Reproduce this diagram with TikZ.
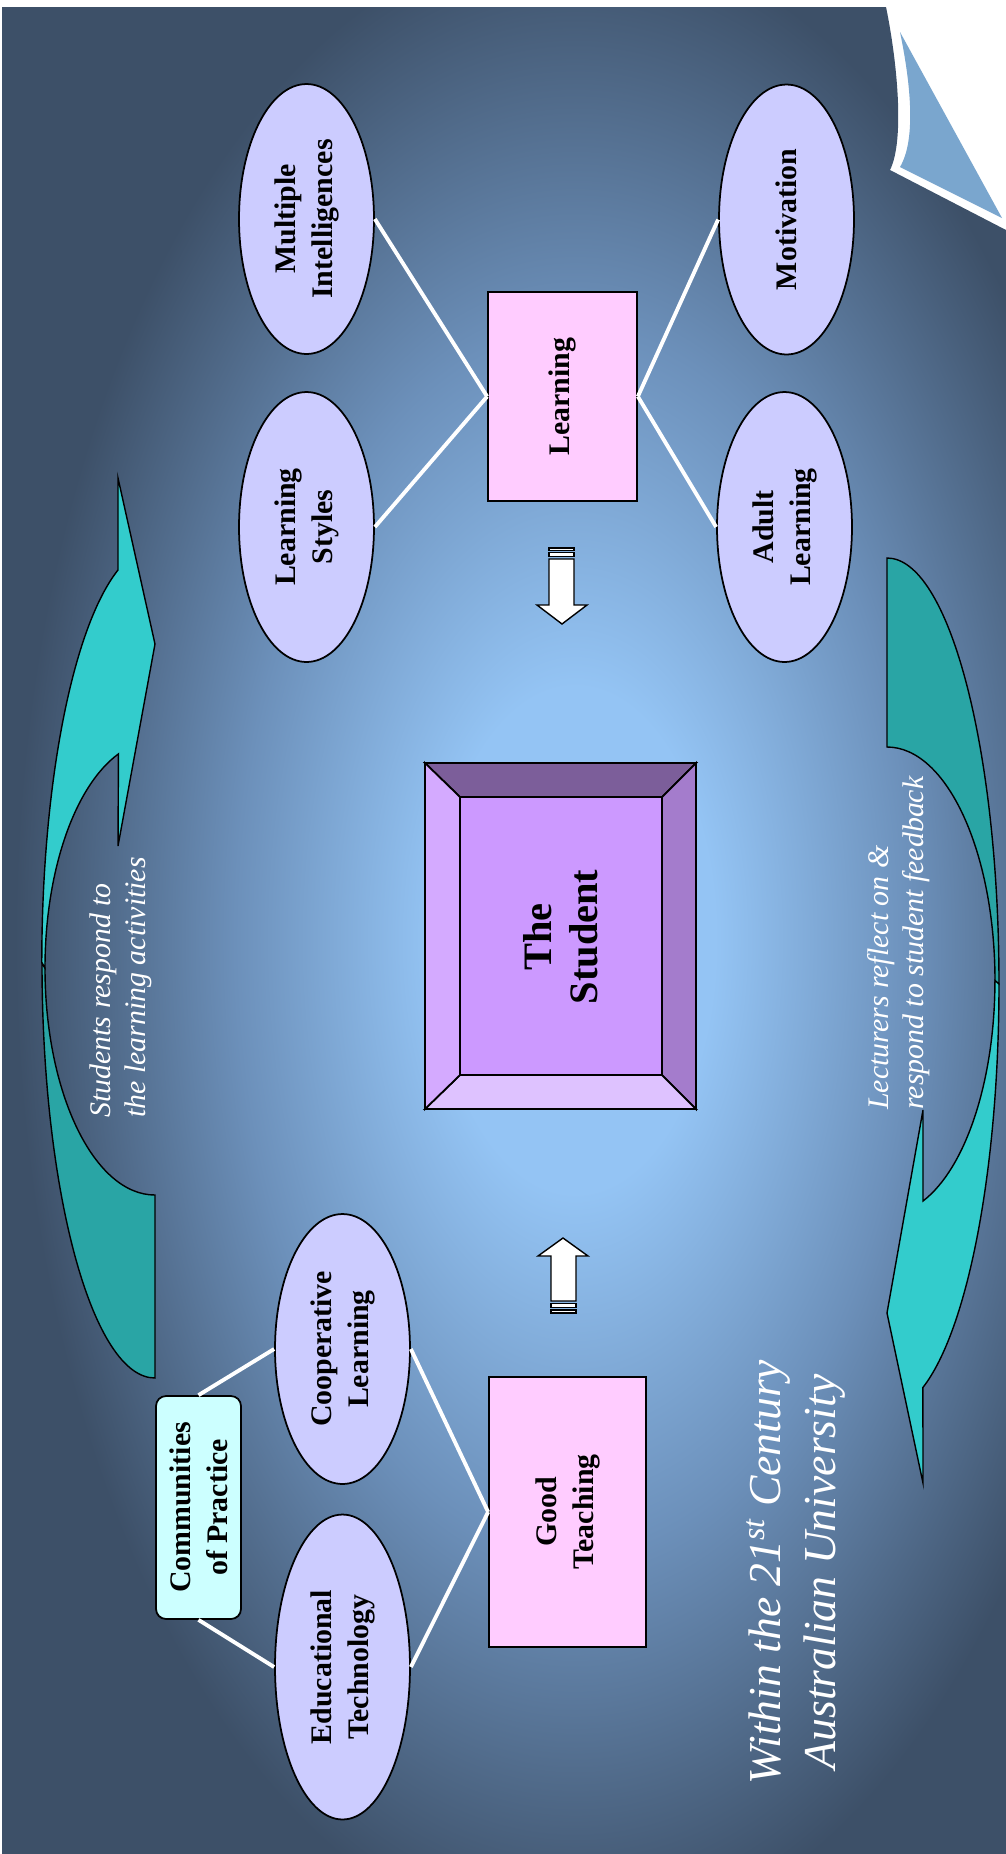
\documentclass[tikz,border=0pt]{standalone}
\usepackage{fontspec}
\setmainfont{Liberation Serif}
\usetikzlibrary{shapes.geometric}

\definecolor{bgdark}{RGB}{61,80,104}
\definecolor{bgmid}{RGB}{108,144,186}
\definecolor{bglight}{RGB}{148,196,244}
\definecolor{curlblue}{RGB}{122,166,206}
\definecolor{ovalfill}{RGB}{204,204,255}
\definecolor{boxfill}{RGB}{255,204,255}
\definecolor{commfill}{RGB}{204,255,255}
\definecolor{arrfront}{RGB}{51,204,204}
\definecolor{arrback}{RGB}{41,165,165}
\definecolor{stuface}{RGB}{204,153,255}
\definecolor{stutop}{RGB}{124,94,154}
\definecolor{sturight}{RGB}{164,124,204}
\definecolor{stuleft}{RGB}{212,170,255}
\definecolor{stubottom}{RGB}{222,194,255}

\pgfdeclareradialshading{bgglow}{\pgfpointorigin}{%
  color(0bp)=(bglight); color(3.5bp)=(bglight); color(8.5bp)=(bgmid);
  color(14bp)=(bgdark); color(50bp)=(bgdark)}

\newcommand\topicfont{\fontsize{17}{21}\selectfont\bfseries}
\newcommand\notefont{\fontsize{17}{20}\selectfont\itshape}

\begin{document}
\begin{tikzpicture}[x=0.02cm,y=-0.02cm]
        \useasboundingbox (0,0) rectangle (1006,1854);
        \fill[white] (0,0) rectangle (1006,1854);

        % slide background, curled corner top right
        \begin{scope}
            \clip (2,7) -- (886,7) .. controls (897,60) and (905,140) .. (890,170)
                -- (1006,230) -- (1006,1854) -- (2,1854) -- cycle;
            \shade[shading=bgglow] (-425,-860) rectangle (1575,2740);
        \end{scope}
        \fill[curlblue] (900,32) .. controls (911,85) and (916,140) .. (900,167) -- (1002,218) -- cycle;

        % curved arrows
        \begin{scope}[line width=0.8pt]
            \filldraw[fill=arrback] (42,963) arc[start angle=180, end angle=90, x radius=113, y radius=415]
                -- (155,1195) arc[start angle=90, end angle=180, x radius=110, y radius=227] -- cycle;
            \filldraw[fill=arrfront] (118,570) arc[start angle=251, end angle=180, x radius=113, y radius=415]
                -- (45,968) arc[start angle=180, end angle=250.6, x radius=110, y radius=227]
                -- (118,846) -- (155,644) -- (118,478) -- cycle;
            \filldraw[fill=arrback] (887,558) arc[start angle=270, end angle=360, x radius=112, y radius=426]
                -- (995,981) arc[start angle=0, end angle=-90, x radius=108, y radius=234] -- cycle;
            \filldraw[fill=arrfront] (999,984) arc[start angle=0, end angle=71.3, x radius=112, y radius=426]
                -- (923,1483) -- (887,1313) -- (923,1110)
                -- (923,1201) arc[start angle=70.5, end angle=0, x radius=108, y radius=234] -- cycle;
        \end{scope}

        % striped block arrows
        \begin{scope}[line width=0.8pt]
            \filldraw[fill=white] (549,548) rectangle (574,550.5);
            \filldraw[fill=white] (549,552.5) rectangle (574,556.5);
            \filldraw[fill=white] (549,559) -- (574,559) -- (574,605) -- (587,605) -- (562,624)
                -- (537,605) -- (549,605) -- cycle;
            \filldraw[fill=white] (551,1301) -- (551,1256) -- (538,1256) -- (563,1238)
                -- (588,1256) -- (576,1256) -- (576,1301) -- cycle;
            \filldraw[fill=white] (551,1303.5) rectangle (576,1307.5);
            \filldraw[fill=white] (551,1310) rectangle (576,1313);
        \end{scope}

        % the student, bevelled box
        \begin{scope}[line width=1pt]
            \filldraw[fill=stutop] (425,763) -- (696,763) -- (662,797) -- (460,797) -- cycle;
            \filldraw[fill=sturight] (696,763) -- (696,1109) -- (662,1075) -- (662,797) -- cycle;
            \filldraw[fill=stubottom] (425,1109) -- (696,1109) -- (662,1075) -- (460,1075) -- cycle;
            \filldraw[fill=stuleft] (425,763) -- (460,797) -- (460,1075) -- (425,1109) -- cycle;
            \filldraw[fill=stuface] (460,797) rectangle (662,1075);
        \end{scope}
        \node[rotate=90,align=center,font=\fontsize{23}{26}\selectfont\bfseries] (student) at (561,937) {The\\Student};

        \begin{scope}[every node/.style={ellipse,draw,line width=1pt,fill=ovalfill,rotate=90,
                    minimum width=5.4cm,minimum height=2.7cm,inner sep=0pt,align=center,font=\topicfont}]
            \node (mi) at (306.5,219) {Multiple\\Intelligences};
            \node (ls) at (306.5,527) {Learning\\Styles};
            \node (mot) at (786.5,219.5) {Motivation};
            \node (al) at (784.5,527) {Adult\\Learning};
            \node (cl) at (342.5,1349) {Cooperative\\Learning};
            \node[minimum width=6.1cm] (et) at (342.5,1667) {Educational\\Technology};
        \end{scope}

        \begin{scope}[every node/.style={rectangle,draw,line width=1pt,fill=boxfill,rotate=90,
                    inner sep=0pt,align=center,font=\topicfont}]
            \node[minimum width=4.18cm,minimum height=2.98cm] (learn) at (562.5,396.5) {Learning};
            \node[minimum width=5.4cm,minimum height=3.14cm] (teach) at (567.5,1512) {Good\\Teaching};
            \node[fill=commfill,rounded corners=0.2cm,minimum width=4.46cm,minimum height=1.7cm] (comm)
                at (198.5,1507.5) {Communities\\of Practice};
        \end{scope}

        \begin{scope}[every edge/.style={draw=white,line width=2.2pt}]
            \path [-] (learn.north) edge (mi.south);
            \path [-] (learn.north) edge (ls.south);
            \path [-] (learn.south) edge (mot.north);
            \path [-] (learn.south) edge (al.north);
            \path [-] (teach.north) edge (cl.south);
            \path [-] (teach.north) edge (et.south);
            \path [-] (comm.east) edge (cl.north);
            \path [-] (comm.west) edge (et.north);
        \end{scope}

        \begin{scope}[every node/.style={text=white,rotate=90,inner sep=0pt}]
            \node[anchor=west,align=left,font=\notefont] (respond) at (121,1118)
                {Students respond to\\the learning activities};
            \node[anchor=west,align=left,font=\notefont] (reflect) at (899,1110)
                {Lecturers reflect on \&\\respond to student feedback};
            \node[align=center,font=\fontsize{26}{31}\selectfont\itshape] (within) at (796,1572)
                {Within the 21\textsuperscript{st} Century\\Australian University};
        \end{scope}
    \end{tikzpicture}
\end{document}
